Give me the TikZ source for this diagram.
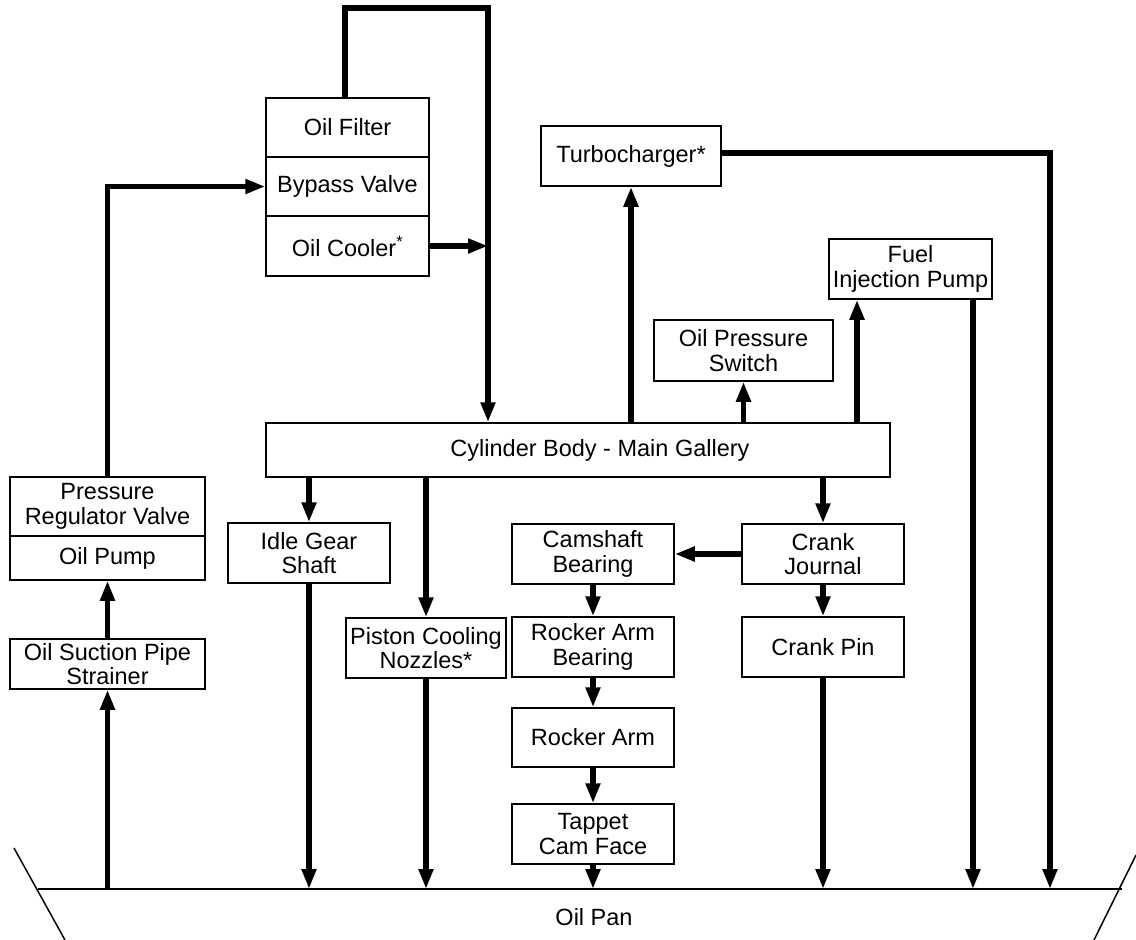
\documentclass[tikz,border=0pt]{standalone}
\usepackage{fontspec}
\setmainfont{Liberation Sans}
\usetikzlibrary{arrows.meta}
\begin{document}
\begin{tikzpicture}[x=1pt,y=-1pt,
  lbl/.style={font=\fontsize{23.5}{24.5}\selectfont},
  box/.style={lbl, draw, line width=1.5pt, inner sep=0pt, align=center, fill=white},
  flow/.style={line width=5.5pt, line join=miter, -{Triangle[length=20pt,width=14pt]}},
  panline/.style={line width=1.5pt},
]
\useasboundingbox (0,0) rectangle (1136,940);

% boxes
\node[box, minimum width=163pt, minimum height=59pt] (filter) at (347.5,127.5) {Oil Filter};
\node[box, minimum width=163pt, minimum height=59pt] (bypass) at (347.5,186.5) {Bypass Valve};
\node[box, minimum width=163pt, minimum height=60pt] (cooler) at (347.5,246) {Oil Cooler\textsuperscript{*}};
\node[box, minimum width=180pt, minimum height=60pt] (turbo) at (631,156) {Turbocharger*};
\node[box, minimum width=163pt, minimum height=60pt] (fip) at (910.5,269) {Fuel\\Injection Pump};
\node[box, minimum width=179pt, minimum height=61pt] (ops) at (743.5,350.5) {Oil Pressure\\Switch};
\node[box, minimum width=624pt, minimum height=54pt] (gallery) at (578,450) {\hspace*{44pt}Cylinder Body - Main Gallery};
\node[box, minimum width=195pt, minimum height=59pt] (prv) at (107.5,506.5) {Pressure\\Regulator Valve};
\node[box, minimum width=195pt, minimum height=44pt] (pump) at (107.5,558) {Oil Pump};
\node[box, minimum width=195pt, minimum height=50pt] (strainer) at (107.5,664) {Oil Suction Pipe\\Strainer};
\node[box, minimum width=162pt, minimum height=60pt] (idle) at (309,553) {Idle Gear\\Shaft};
\node[box, minimum width=160pt, minimum height=60pt] (piston) at (426,648) {Piston Cooling\\Nozzles*};
\node[box, minimum width=162pt, minimum height=60pt] (cam) at (593,554) {Camshaft\\Bearing};
\node[box, minimum width=162pt, minimum height=60pt] (cj) at (823,554) {Crank\\Journal};
\node[box, minimum width=162pt, minimum height=60pt] (rab) at (593,647) {Rocker Arm\\Bearing};
\node[box, minimum width=162pt, minimum height=60pt] (cp) at (823,647) {Crank Pin};
\node[box, minimum width=162pt, minimum height=59pt] (ra) at (593,737.5) {Rocker Arm};
\node[box, minimum width=162pt, minimum height=60pt] (tappet) at (593,834) {Tappet\\Cam Face};

% oil pan
\draw[panline] (38,889) -- (1122,889);
\draw[panline] (14,848) -- (65,940);
\draw[panline] (1136,855) -- (1094,940);
\node[lbl] (pantext) at (594,917) {Oil Pan};

% helper coordinates
\coordinate (pan) at (0,889);
\coordinate (loopL) at (345,8);
\coordinate (loopR) at (488,8);
\coordinate (fipin) at (857,0);
\coordinate (fipout) at (973,0);
\coordinate (turboout) at (1050,0);

% connectors
\draw[flow] (strainer.south |- pan) -- (strainer.south);
\draw[flow] (strainer.north) -- (pump.south);
\draw[flow] (prv.north) |- (bypass.west);
\draw[flow] (filter.north -| loopL) -- (loopL) -- (loopR) -- (loopR |- gallery.north);
\draw[flow] (cooler.east) -- (cooler.east -| loopR);
\draw[flow] (gallery.north -| turbo.south) -- (turbo.south);
\draw[flow] (gallery.north -| ops.south) -- (ops.south);
\draw[flow] (gallery.north -| fipin) -- (fipin |- fip.south);
\draw[flow] (fipout |- fip.south) -- (fipout |- pan);
\draw[flow] ([yshift=3pt]turbo.east) -| (turboout |- pan);
\draw[flow] (gallery.south -| idle.north) -- (idle.north);
\draw[flow] (idle.south) -- (idle.south |- pan);
\draw[flow] (gallery.south -| piston.north) -- (piston.north);
\draw[flow] (piston.south) -- (piston.south |- pan);
\draw[flow] (gallery.south -| cj.north) -- (cj.north);
\draw[flow] (cj.west) -- (cam.east);
\draw[flow] (cj.south) -- (cp.north);
\draw[flow] (cp.south) -- (cp.south |- pan);
\draw[flow] (cam.south) -- (rab.north);
\draw[flow] (rab.south) -- (ra.north);
\draw[flow] (ra.south) -- (tappet.north);
\draw[flow] (tappet.south) -- (tappet.south |- pan);
\end{tikzpicture}
\end{document}
